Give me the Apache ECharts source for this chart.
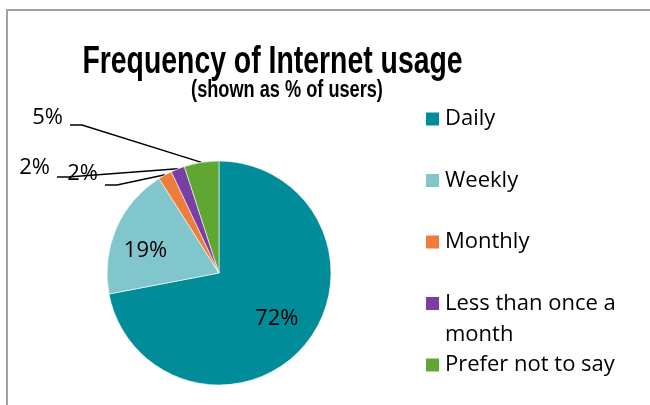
<!DOCTYPE html>
<html>
<head>
<meta charset="utf-8">
<script src="https://cdn.jsdelivr.net/npm/echarts@6/dist/echarts.min.js"></script>
<style>
  html, body { margin: 0; padding: 0; background: #ffffff; }
  #chart { width: 650px; height: 405px; }
</style>
</head>
<body>
<div id="chart"></div>
<script>
// Survey answers: how often respondents use the Internet (% of users)
const categories = ['Daily', 'Weekly', 'Monthly', 'Less than once a month', 'Prefer not to say'];
const shares = [72, 19, 2, 2, 5];
const sliceColors = ['#008C99', '#80C6CC', '#EE7D3C', '#7A3FA2', '#5FA732'];

const titleText = 'Frequency of Internet usage';
const subtitleText = '(shown as % of users)';

// ---- layout ----
const PIE_CX = 219, PIE_CY = 273, PIE_R = 112;
const BODY_FONT = '"Open Sans", Lato, sans-serif';
const BODY_SIZE = 22;
const LEGEND_X = 424, LEGEND_Y0 = 119, LEGEND_STEP = 61.5, LINE_H = 31;

// Inner labels: distance from the centre (share of radius) and a small turn (deg)
const innerPlacement = {
  0: { dist: 0.655, turn: -1.5 },
  1: { dist: 0.685, turn: -6.8 }
};

// Callouts for the thin slices: label anchor (right edge, middle) and the
// elbow/end points of the leader line.
const callouts = {
  2: { label: [98, 174], elbow: [117, 185], end: [105, 185] },
  3: { label: [50, 168], elbow: [68, 177], end: [57, 177] },
  4: { label: [63, 118], elbow: [82, 125], end: [70, 125] }
};

const total = shares.reduce((a, b) => a + b, 0);
const midAngles = [];
shares.reduce((acc, v) => { midAngles.push((acc + v / 2) / total * 360); return acc + v; }, 0);

const chart = echarts.init(document.getElementById('chart'), null, { renderer: 'canvas' });

const pieData = categories.map((name, i) => ({
  name: name,
  value: shares[i],
  itemStyle: { color: sliceColors[i] },
  label: { position: innerPlacement[i] ? 'inside' : 'outside' },
  labelLine: { show: !innerPlacement[i] }
}));

// one legend block per entry so the wrapped entry keeps the row rhythm;
// the wrapped entry gets a blank leading line so its first line sits by the swatch
const legends = categories.map((name, i) => {
  const wrapped = name === 'Less than once a month';
  return {
    orient: 'vertical',
    left: LEGEND_X,
    top: LEGEND_Y0 + i * LEGEND_STEP - (wrapped ? 1.5 * LINE_H : 0.5 * LINE_H),
    padding: 0,
    itemWidth: 15,
    itemHeight: 15,
    itemGap: 0,
    icon: 'rect',
    selectedMode: false,
    formatter: n => n === 'Less than once a month' ? '\u00a0\nLess than once a\nmonth' : n,
    textStyle: { fontFamily: BODY_FONT, fontSize: BODY_SIZE, color: '#000', lineHeight: LINE_H },
    data: [name]
  };
});

chart.setOption({
  animation: false,
  backgroundColor: '#ffffff',
  graphic: [
    {
      type: 'rect', z: -1, silent: true,
      shape: { x: 7, y: 10, width: 700, height: 450 },
      style: { fill: 'none', stroke: '#a2a2a2', lineWidth: 2 }
    },
    {
      type: 'text', x: 272.5, y: 62, scaleX: 0.728, silent: true,
      style: {
        text: titleText, align: 'center', verticalAlign: 'middle', fill: '#000',
        font: 'bold 39px "Liberation Sans", Arial, sans-serif'
      }
    },
    {
      type: 'text', x: 287, y: 91, scaleX: 0.79, silent: true,
      style: {
        text: subtitleText, align: 'center', verticalAlign: 'middle', fill: '#000',
        font: 'bold 23px "Liberation Sans", Arial, sans-serif'
      }
    }
  ],
  legend: legends,
  series: [{
    type: 'pie',
    center: [PIE_CX, PIE_CY],
    radius: [0, PIE_R],
    startAngle: 90,
    clockwise: true,
    avoidLabelOverlap: false,
    itemStyle: { borderColor: '#ffffff', borderWidth: 0.6 },
    label: {
      show: true,
      formatter: p => p.value + '%',
      fontFamily: BODY_FONT, fontSize: BODY_SIZE, color: '#000'
    },
    labelLine: { show: true, lineStyle: { color: '#000', width: 1.5 } },
    labelLayout: function (p) {
      const c = callouts[p.dataIndex];
      if (c) {
        const start = p.labelLinePoints ? p.labelLinePoints[0] : c.elbow;
        return {
          x: c.label[0], y: c.label[1], align: 'right', verticalAlign: 'middle',
          labelLinePoints: [start, c.elbow, c.end]
        };
      }
      const place = innerPlacement[p.dataIndex];
      const a = (midAngles[p.dataIndex] + place.turn) * Math.PI / 180;
      const d = place.dist * PIE_R;
      return {
        x: PIE_CX + d * Math.sin(a), y: PIE_CY - d * Math.cos(a),
        align: 'center', verticalAlign: 'middle'
      };
    },
    data: pieData
  }]
});
</script>
</body>
</html>
